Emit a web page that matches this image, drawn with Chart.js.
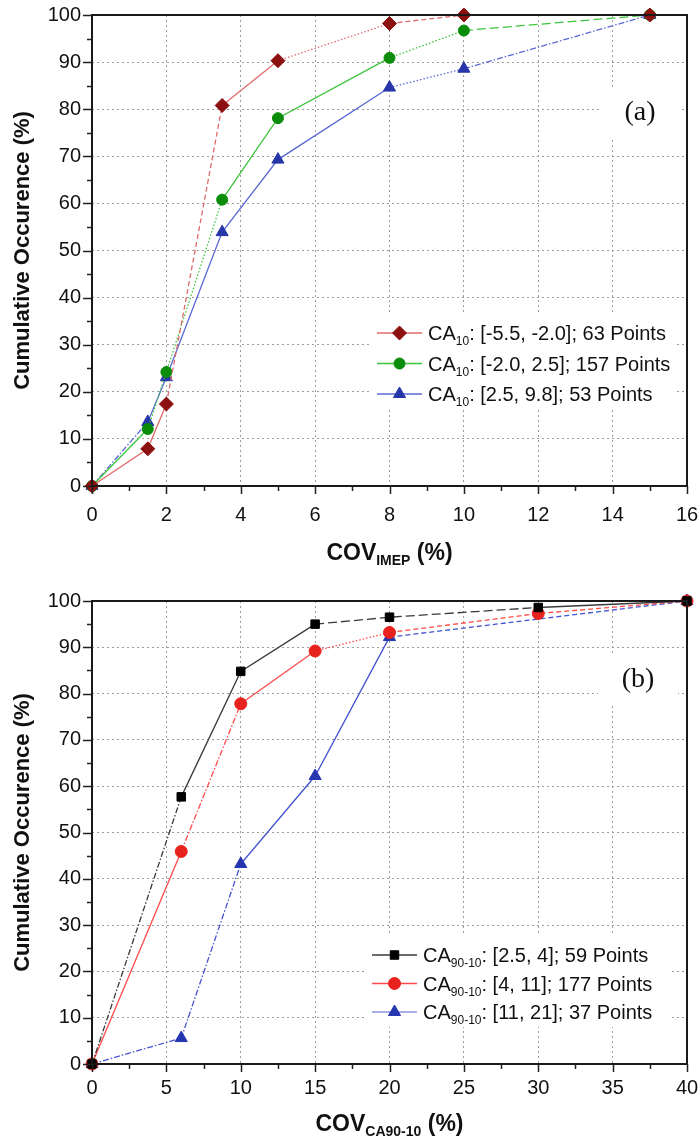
<!DOCTYPE html>
<html>
<head>
<meta charset="utf-8">
<script src="https://cdn.jsdelivr.net/npm/chart.js@4/dist/chart.umd.min.js"></script>
<style>
html, body { margin: 0; padding: 0; background: #fff; }
.panel { position: absolute; left: 0; width: 699px; }
#panelA { top: 0; height: 565px; }
#panelB { top: 565px; height: 574px; }
</style>
</head>
<body>
<div class="panel" id="panelA"><canvas id="chartA" width="699" height="565"></canvas></div>
<div class="panel" id="panelB"><canvas id="chartB" width="699" height="574"></canvas></div>
<script>
// ---- (a) cumulative occurrence vs COV of IMEP, grouped by CA10 ----
var covImep = [0, 1.5, 2, 3.5, 5, 8, 10, 15];
var occEarly = [0, 7.9, 17.4, 80.8, 90.3, 98.2, 100, 100];
var occMid = [0, 12.1, 24.2, 60.8, 78.1, 90.9, 96.7, 100];
var occLate = [0, 13.6, 23.1, 53.9, 69.3, 84.6, 88.6, 100];
var legendA = ['[-5.5, -2.0]; 63 Points', '[-2.0, 2.5]; 157 Points', '[2.5, 9.8]; 53 Points'];

// ---- (b) cumulative occurrence vs COV of CA90-10, grouped by burn duration ----
var covBurn = [0, 6, 10, 15, 20, 30, 40];
var covBurnLong = [0, 6, 10, 15, 20, 40];
var occShort = [0, 57.7, 84.8, 95.0, 96.5, 98.6, 100];
var occMedium = [0, 45.9, 77.8, 89.2, 93.2, 97.3, 100];
var occLong = [0, 5.6, 43.2, 62.2, 92.2, 100];
var legendB = ['[2.5, 4]; 59 Points', '[4, 11]; 177 Points', '[11, 21]; 37 Points'];

var yTicks = { min: 0, max: 100, step: 10, minor: 5 };

var SANS = '"Liberation Sans", Arial, sans-serif';
var SERIF = '"Liberation Serif", "Times New Roman", serif';

var SOLID = [], DASH = [5, 3], DOT = [1.5, 2], DASHDOT = [6, 2, 1.5, 2], LONG = [9, 4];

function toPoints(xs, ys) {
	return xs.map(function(x, i) { return { x: x, y: ys[i] }; });
}

function makeDataset(xs, ys, lineColor, markColor, style, radius, dashes) {
	return {
		data: toPoints(xs, ys),
		showLine: true,
		borderColor: lineColor,
		borderWidth: 1.3,
		pointStyle: style,
		pointRadius: radius,
		pointHoverRadius: radius,
		pointBackgroundColor: markColor,
		pointBorderColor: markColor,
		pointBorderWidth: 1,
		clip: false,
		segment: {
			borderDash: function(ctx) { return dashes[ctx.p0DataIndex] || []; }
		}
	};
}

// draws a run of text pieces (for subscripts) starting at x, or centred on x
function drawRich(ctx, parts, x, y, centred) {
	var total = 0;
	parts.forEach(function(p) { ctx.font = p.font; total += ctx.measureText(p.text).width; });
	var cx = centred ? x - total / 2 : x;
	ctx.textAlign = 'left';
	ctx.textBaseline = 'alphabetic';
	parts.forEach(function(p) {
		ctx.font = p.font;
		ctx.fillText(p.text, cx, y + (p.dy || 0));
		cx += ctx.measureText(p.text).width;
	});
	return total;
}

function decorPlugin(cfg) {
	return {
		id: 'decor',
		beforeDatasetsDraw: function(chart) {
			var ctx = chart.ctx;
			ctx.save();
			ctx.fillStyle = '#fff';
			cfg.masks.forEach(function(m) { ctx.fillRect(m[0], m[1], m[2], m[3]); });
			ctx.restore();
		},
		afterDatasetsDraw: function(chart) {
			var ctx = chart.ctx;
			var area = chart.chartArea;
			var xs = chart.scales.x, ys = chart.scales.y;
			ctx.save();

			// tick marks, major and minor
			ctx.strokeStyle = '#222';
			ctx.lineWidth = 1.5;
			ctx.beginPath();
			for (var v = xs.min; v <= xs.max + 1e-6; v += cfg.xMinor) {
				var px = Math.round(xs.getPixelForValue(v)) + 0.5;
				var major = Math.abs(v / cfg.xMajor - Math.round(v / cfg.xMajor)) < 1e-6;
				ctx.moveTo(px, area.bottom);
				ctx.lineTo(px, area.bottom + (major ? 8 : 5));
			}
			for (var w = yTicks.min; w <= yTicks.max; w += yTicks.minor) {
				var py = Math.round(ys.getPixelForValue(w)) + 0.5;
				var majorY = w % yTicks.step === 0;
				ctx.moveTo(area.left, py);
				ctx.lineTo(area.left - (majorY ? 9 : 5), py);
			}
			ctx.stroke();

			// frame
			ctx.lineWidth = 2;
			ctx.strokeStyle = '#1a1a1a';
			ctx.strokeRect(area.left, area.top, area.right - area.left, area.bottom - area.top);

			// legend
			cfg.legend.forEach(function(item, i) {
				var ly = cfg.legendY + i * cfg.legendGap;
				ctx.strokeStyle = item.line;
				ctx.lineWidth = 1.3;
				ctx.setLineDash([]);
				ctx.beginPath();
				ctx.moveTo(cfg.legendX, ly);
				ctx.lineTo(cfg.legendX + 45, ly);
				ctx.stroke();
				ctx.fillStyle = item.mark;
				ctx.strokeStyle = item.mark;
				ctx.lineWidth = 1;
				Chart.helpers.drawPoint(ctx, { pointStyle: item.style, radius: item.radius, rotation: 0, borderWidth: 1 }, cfg.legendX + 22.5, ly);
				ctx.fillStyle = '#111';
				drawRich(ctx, [
					{ text: 'CA', font: '20px ' + SANS },
					{ text: cfg.sub, font: '12px ' + SANS, dy: 5 },
					{ text: ': ' + item.text, font: '20px ' + SANS }
				], cfg.legendX + 51, ly + 7, false);
			});

			// panel letter
			ctx.fillStyle = '#111';
			ctx.font = '28px ' + SERIF;
			ctx.textAlign = 'center';
			ctx.textBaseline = 'middle';
			ctx.fillText(cfg.panel, cfg.panelX, cfg.panelY);

			// axis titles
			drawRich(ctx, [
				{ text: 'COV', font: 'bold 23px ' + SANS },
				{ text: cfg.xSub, font: 'bold 14px ' + SANS, dy: 5 },
				{ text: ' (%)', font: 'bold 23px ' + SANS }
			], (area.left + area.right) / 2, cfg.xTitleY, true);

			ctx.translate(23, (area.top + area.bottom) / 2);
			ctx.rotate(-Math.PI / 2);
			ctx.font = 'bold 22px ' + SANS;
			ctx.textAlign = 'center';
			ctx.textBaseline = 'middle';
			ctx.fillText('Cumulative Occurence (%)', 0, 0);
			ctx.restore();
		}
	};
}

function makeOptions(xMax, xStep, topPad, xHeight, tickPad) {
	return {
		responsive: false,
		animation: false,
		layout: { padding: { top: topPad, right: 12, left: 0, bottom: 0 } },
		plugins: { legend: { display: false }, tooltip: { enabled: false } },
		scales: {
			x: {
				type: 'linear',
				min: 0,
				max: xMax,
				afterFit: function(scale) {
					scale.height = xHeight;
					scale.paddingLeft = 0;
					scale.paddingRight = 0;
				},
				border: { display: false, dash: [2, 3] },
				grid: { color: '#9c9c9c', lineWidth: 1, drawTicks: false },
				ticks: { stepSize: xStep, padding: tickPad, color: '#111', font: { family: SANS, size: 20 } }
			},
			y: {
				min: yTicks.min,
				max: yTicks.max,
				afterFit: function(scale) {
					scale.width = 92;
					scale.paddingTop = 0;
					scale.paddingBottom = 0;
				},
				border: { display: false, dash: [2, 3] },
				grid: { color: '#9c9c9c', lineWidth: 1, drawTicks: false },
				ticks: { stepSize: yTicks.step, padding: 11, color: '#111', font: { family: SANS, size: 20 } }
			}
		}
	};
}

// ---- chart (a) ----
new Chart(document.getElementById('chartA'), {
	type: 'scatter',
	data: {
		datasets: [
			makeDataset(covImep, occEarly, '#e06a6a', '#8c1010', 'rectRot', 7,
				[SOLID, SOLID, DASH, SOLID, DOT, DASH, SOLID]),
			makeDataset(covImep, occMid, '#3cc43c', '#0b8c0b', 'circle', 5.5,
				[SOLID, DOT, DOT, SOLID, SOLID, DOT, LONG]),
			makeDataset(covImep, occLate, '#5a68d4', '#2636a8', 'triangle', 7,
				[DASHDOT, SOLID, SOLID, SOLID, SOLID, DOT, DASHDOT])
		]
	},
	options: makeOptions(16, 2, 15, 79, 17),
	plugins: [decorPlugin({
		xMinor: 1, xMajor: 2, xSub: 'IMEP', xTitleY: 560,
		panel: '(a)', panelX: 640, panelY: 113,
		sub: '10', legendX: 377, legendY: 333, legendGap: 30.5,
		masks: [[372, 312, 304, 96], [600, 88, 80, 50]],
		legend: [
			{ text: legendA[0], line: '#e06a6a', mark: '#8c1010', style: 'rectRot', radius: 7 },
			{ text: legendA[1], line: '#3cc43c', mark: '#0b8c0b', style: 'circle', radius: 5.5 },
			{ text: legendA[2], line: '#5a68d4', mark: '#2636a8', style: 'triangle', radius: 7 }
		]
	})]
});

// ---- chart (b) ----
new Chart(document.getElementById('chartB'), {
	type: 'scatter',
	data: {
		datasets: [
			makeDataset(covBurn, occShort, '#3a3a3a', '#000', 'rect', 6,
				[DASHDOT, SOLID, SOLID, LONG, LONG, SOLID]),
			makeDataset(covBurn, occMedium, '#ff4a4a', '#e8221c', 'circle', 6,
				[SOLID, DASHDOT, SOLID, DOT, DASH, DASH]),
			makeDataset(covBurnLong, occLong, '#4454d0', '#2536b0', 'triangle', 7,
				[DASHDOT, DASHDOT, SOLID, SOLID, DASH])
		]
	},
	options: makeOptions(40, 5, 36, 75, 12),
	plugins: [decorPlugin({
		xMinor: 2.5, xMajor: 5, xSub: 'CA90-10', xTitleY: 566,
		panel: '(b)', panelX: 638, panelY: 115,
		sub: '90-10', legendX: 372, legendY: 390, legendGap: 28.5,
		masks: [[366, 370, 304, 92], [598, 88, 80, 52]],
		legend: [
			{ text: legendB[0], line: '#3a3a3a', mark: '#000', style: 'rect', radius: 6 },
			{ text: legendB[1], line: '#ff4a4a', mark: '#e8221c', style: 'circle', radius: 6 },
			{ text: legendB[2], line: '#8c96e0', mark: '#2536b0', style: 'triangle', radius: 7 }
		]
	})]
});
</script>
</body>
</html>
